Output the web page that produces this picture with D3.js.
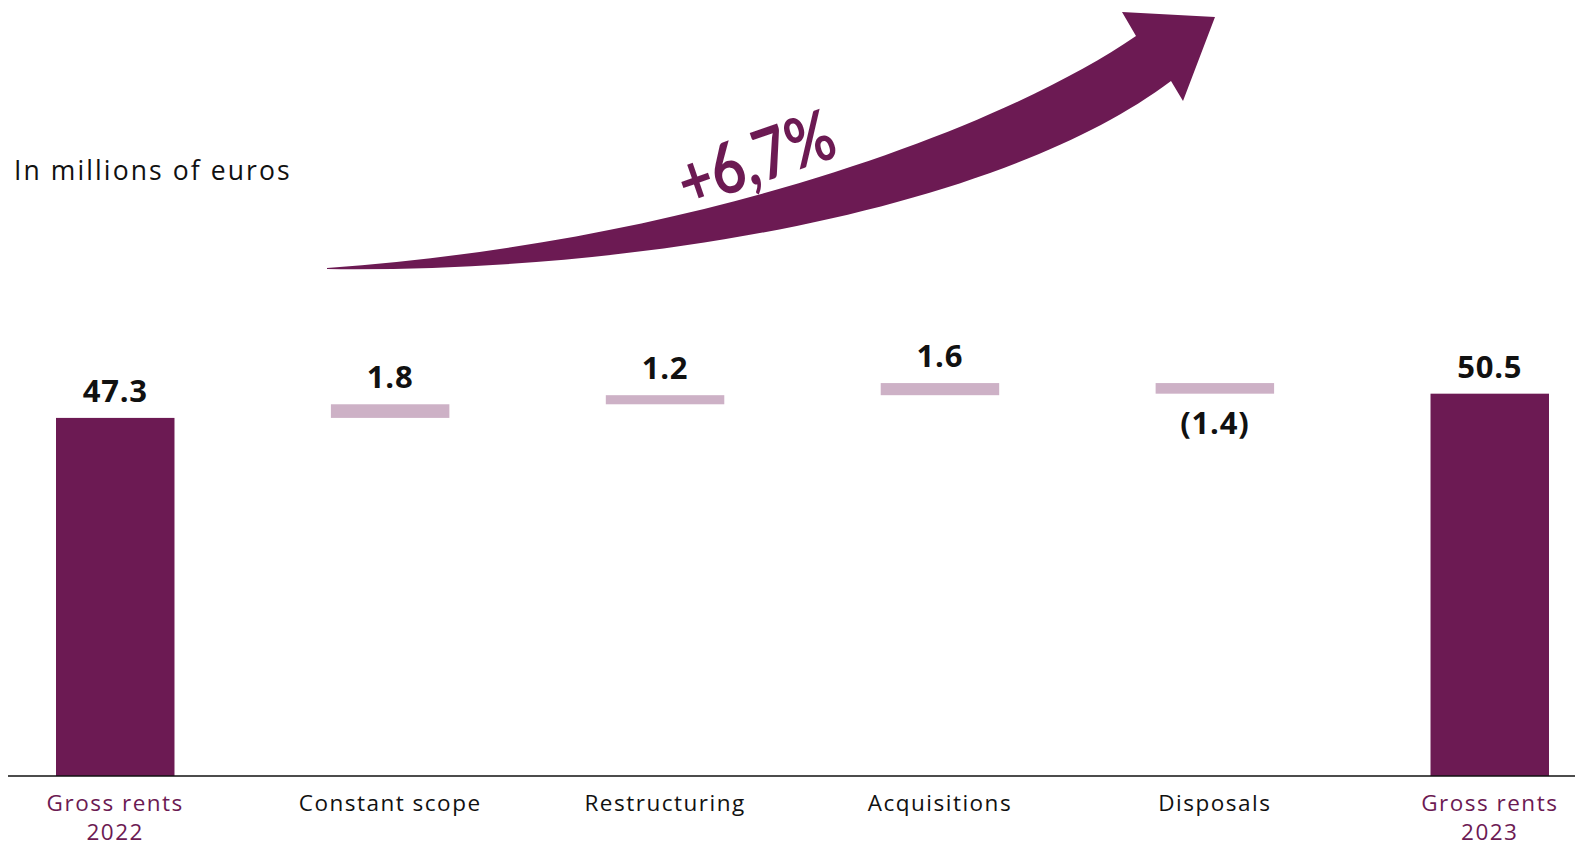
<!DOCTYPE html>
<html>
<head>
<meta charset="utf-8">
<script src="https://cdn.jsdelivr.net/npm/d3@7"></script>
<style>
  html, body { margin: 0; padding: 0; background: #fff; }
  svg { display: block; }
</style>
</head>
<body>
<svg id="chart" width="1575" height="846"></svg>
<script>
// ---- data ----
const categories = ["Gross rents 2022", "Constant scope", "Restructuring", "Acquisitions", "Disposals", "Gross rents 2023"];
const labelLines = [["Gross rents", "2022"], ["Constant scope"], ["Restructuring"], ["Acquisitions"], ["Disposals"], ["Gross rents", "2023"]];
const values = [47.3, 1.8, 1.2, 1.6, -1.4, 50.5];
const kinds = ["total", "delta", "delta", "delta", "delta", "total"];
const valueLabels = ["47.3", "1.8", "1.2", "1.6", "(1.4)", "50.5"];
const unitLabel = "In millions of euros";
const growthLabel = "+6,7%";

// ---- styles ----
const dark = "#6C1A53";
const light = "#CDB1C6";
const baseY = 776;

const svg = d3.select("#chart");

// compute waterfall spans
let run = 0;
const bars = values.map((v, i) => {
  let y0, y1;
  if (kinds[i] === "total") { y0 = 0; y1 = v; run = v; }
  else { y0 = run; y1 = run + v; run = y1; }
  return { cat: categories[i], v, y0, y1, kind: kinds[i], label: valueLabels[i], lines: labelLines[i] };
});

const x = d3.scaleBand().domain(categories).range([56, 1549]).paddingInner(0.569).paddingOuter(0);
const y = d3.scaleLinear().domain([0, 102.5]).range([baseY, 0]);

// bars
svg.append("g").selectAll("rect").data(bars).join("rect")
  .attr("x", d => x(d.cat))
  .attr("width", x.bandwidth())
  .attr("y", d => y(Math.max(d.y0, d.y1)))
  .attr("height", d => Math.abs(y(d.y0) - y(d.y1)))
  .attr("fill", d => d.kind === "total" ? dark : light);

// baseline axis
const axis = d3.axisBottom(x).tickSize(0).tickFormat("");
const ax = svg.append("g").attr("transform", `translate(0,${baseY})`).call(axis);
ax.select(".domain").remove();
svg.append("line").attr("x1", 8).attr("x2", 1575).attr("y1", baseY).attr("y2", baseY)
  .attr("stroke", "#111").attr("stroke-width", 1.5);

// category labels
const lab = svg.append("g").selectAll("text").data(bars).join("text")
  .attr("x", d => x(d.cat) + x.bandwidth() / 2)
  .attr("y", 811)
  .attr("text-anchor", "middle")
  .attr("font-family", "'Open Sans', Lato, sans-serif")
  .attr("font-size", 22.5)
  .attr("letter-spacing", 1.5)
  .attr("fill", d => d.kind === "total" ? dark : "#111");
lab.each(function(d) {
  const t = d3.select(this);
  d.lines.forEach((ln, k) => {
    t.append("tspan").attr("x", x(d.cat) + x.bandwidth() / 2).attr("dy", k === 0 ? 0 : 28.5).text(ln);
  });
});

// value labels
svg.append("g").selectAll("text").data(bars).join("text")
  .attr("x", d => x(d.cat) + x.bandwidth() / 2)
  .attr("y", d => d.v < 0 ? y(Math.min(d.y0, d.y1)) + 40 : y(Math.max(d.y0, d.y1)) - 16)
  .attr("text-anchor", "middle")
  .attr("font-family", "'Open Sans', Lato, sans-serif")
  .attr("font-weight", 700)
  .attr("font-size", 31)
  .attr("letter-spacing", 0.8)
  .attr("fill", "#111")
  .text(d => d.label);

// unit label
svg.append("text").attr("x", 14).attr("y", 180)
  .attr("font-family", "'Open Sans', Lato, sans-serif")
  .attr("font-size", 26.5).attr("letter-spacing", 2.1).attr("fill", "#111").text(unitLabel);

// growth arrow
const p = d3.path();
p.moveTo(327, 268);
p.bezierCurveTo(703, 241, 1005, 126, 1136, 36);
p.lineTo(1122, 12);
p.lineTo(1215, 17);
p.lineTo(1183, 101);
p.lineTo(1171, 81);
p.bezierCurveTo(1005, 206, 653, 273, 327, 269);
p.closePath();
svg.append("path").attr("d", p.toString()).attr("fill", dark);

svg.append("text")
  .attr("transform", "translate(764,182) rotate(-19) scale(0.92,1.12)")
  .attr("text-anchor", "middle")
  .attr("font-family", "Lato, sans-serif")
  .attr("font-weight", 700)
  .attr("font-size", 63)
  .attr("fill", dark)
  .text(growthLabel);
</script>
</body>
</html>
